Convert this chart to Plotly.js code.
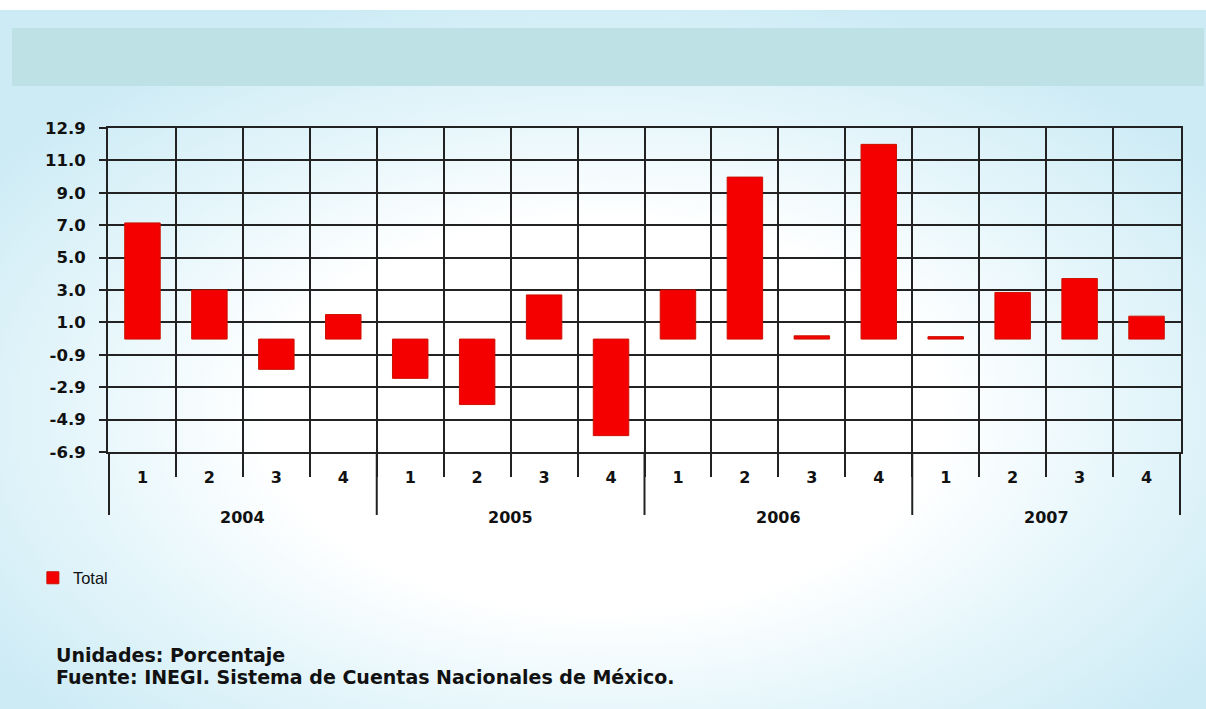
<!DOCTYPE html>
<html>
<head>
<meta charset="utf-8">
<script src="https://cdn.plot.ly/plotly-3.0.1.min.js"></script>
<style>
  html, body { margin:0; padding:0; width:1206px; height:709px; overflow:hidden; background:#ffffff; }
  #bg { position:absolute; left:0; top:10px; width:1206px; height:699px;
        background: radial-gradient(ellipse 62% 62% at 50% 58%, #ffffff 0%, #ffffff 45%, #e6f6fb 70%, #cdebf5 100%); }
  #band { position:absolute; left:12px; top:28px; width:1192px; height:58px; background:#bde1e4; }
  #chart { position:absolute; left:0; top:0; width:1206px; height:709px; }
</style>
</head>
<body>
<div id="bg"></div>
<div id="band"></div>
<div id="chart"></div>
<script>
const years = ['2004','2004','2004','2004','2005','2005','2005','2005','2006','2006','2006','2006','2007','2007','2007','2007'];
const quarters = ['1','2','3','4','1','2','3','4','1','2','3','4','1','2','3','4'];
const values = [7.1, 3.0, -1.85, 1.5, -2.4, -4.0, 2.7, -5.9, 3.0, 9.9, 0.2, 11.9, 0.15, 2.85, 3.7, 1.4];
const seriesName = 'Total';
const yTickVals = [-6.9, -4.92, -2.94, -0.96, 1.02, 3.0, 4.98, 6.96, 8.94, 10.92, 12.9];
const yTickText = ['-6.9', '-4.9', '-2.9', '-0.9', '1.0', '3.0', '5.0', '7.0', '9.0', '11.0', '12.9'];
const notes = ['Unidades: Porcentaje', 'Fuente: INEGI. Sistema de Cuentas Nacionales de México.'];

const BOLDFONT = 'DejaVu Sans, Verdana, sans-serif';
const FONT = 'Liberation Sans, Arial, sans-serif';
const INK = '#222';

// unique category keys built from the year/quarter arrays
const cats = years.map((y, i) => y + '-' + quarters[i]);

// year groups: first/last index of each year
const yearGroups = [];
years.forEach((y, i) => {
  const g = yearGroups[yearGroups.length - 1];
  if (g && g.year === y) g.last = i; else yearGroups.push({ year: y, first: i, last: i });
});

const trace = {
  type: 'bar',
  x: cats,
  y: values,
  name: seriesName,
  width: 0.53,
  marker: { color: '#f40000', line: { color: '#cc1100', width: 1 } },
  showlegend: true,
  hoverinfo: 'y'
};

const shapes = [];
yearGroups.forEach((g, k) => {
  shapes.push({ type: 'line', xref: 'x', yref: 'paper', x0: g.first - 0.5, x1: g.first - 0.5, y0: 0, y1: -0.1944,
                line: { color: INK, width: 2 } });
  if (k === yearGroups.length - 1)
    shapes.push({ type: 'line', xref: 'x', yref: 'paper', x0: g.last + 0.5, x1: g.last + 0.5, y0: 0, y1: -0.1944,
                  line: { color: INK, width: 2 } });
});

const annotations = yearGroups.map(g => ({
  text: g.year, xref: 'x', yref: 'paper', x: (g.first + g.last) / 2, y: -0.2037,
  xanchor: 'center', yanchor: 'middle', showarrow: false,
  font: { family: BOLDFONT, size: 16, color: '#111', weight: 'bold' }
})).concat(notes.map((t, i) => ({
  text: t, xref: 'paper', yref: 'paper',
  x: -0.0505, y: -0.6265 - i * 0.068, xanchor: 'left', yanchor: 'middle',
  showarrow: false,
  font: { family: BOLDFONT, size: 19, color: '#111', weight: 'bold' }
})));

const layout = {
  width: 1206, height: 709,
  paper_bgcolor: 'rgba(0,0,0,0)',
  plot_bgcolor: 'rgba(0,0,0,0)',
  margin: { l: 108, r: 25, t: 128, b: 257 },
  xaxis: {
    type: 'category',
    tickmode: 'array', tickvals: cats, ticktext: quarters,
    tickson: 'boundaries',
    ticks: 'outside', ticklen: 23, tickwidth: 2, tickcolor: INK,
    showgrid: true, gridcolor: INK, gridwidth: 2,
    showline: true, linecolor: INK, linewidth: 2, mirror: true,
    tickfont: { family: BOLDFONT, size: 16, color: '#111', weight: 'bold' },
    ticklabelstandoff: 10
  },
  yaxis: {
    range: [-6.9, 12.9],
    tickvals: yTickVals, ticktext: yTickText,
    ticks: 'outside', ticklen: 7, tickwidth: 2, tickcolor: INK,
    showgrid: true, gridcolor: INK, gridwidth: 2,
    zeroline: false,
    showline: true, linecolor: INK, linewidth: 2, mirror: true,
    tickfont: { family: BOLDFONT, size: 16.5, color: '#111', weight: 'bold' },
    ticklabelstandoff: 10
  },
  showlegend: true,
  legend: {
    x: -0.07, y: -0.335, xanchor: 'left', yanchor: 'top',
    bgcolor: 'rgba(0,0,0,0)',
    font: { family: FONT, size: 16.5, color: '#111' }
  },
  shapes: shapes,
  annotations: annotations
};

Plotly.newPlot('chart', [trace], layout, { displayModeBar: false, staticPlot: true });
</script>
</body>
</html>
